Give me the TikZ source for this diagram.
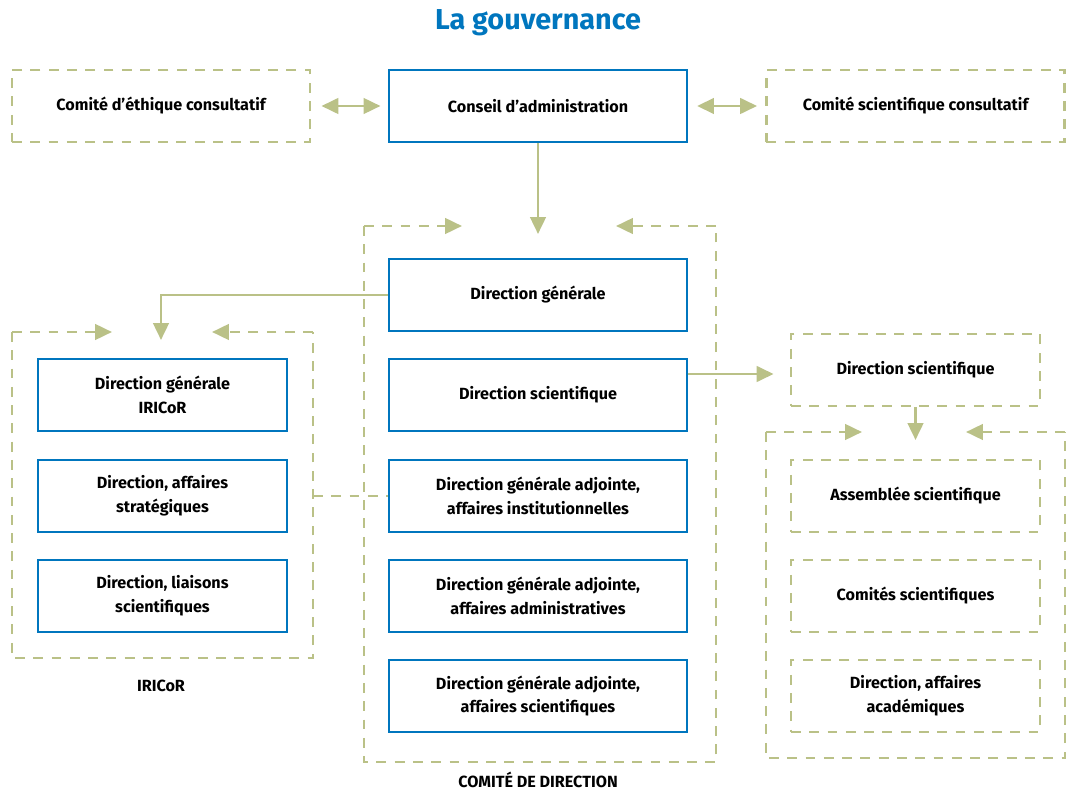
\documentclass[tikz,border=0pt]{standalone}
\usepackage{fontspec}
\setmainfont{Fira Sans}
\usetikzlibrary{arrows.meta, positioning}
\definecolor{govblue}{RGB}{0,118,190}
\definecolor{govgreen}{RGB}{186,193,135}

\begin{document}
\begin{tikzpicture}[x=0.025cm, y=-0.025cm,
    box/.style={draw=govblue, line width=1.8pt, fill=white, minimum width=7.45cm, minimum height=1.8cm, align=center, font=\bfseries\fontsize{11.5}{17}\selectfont},
    smallbox/.style={box, minimum width=6.225cm},
    dashbox/.style={box, draw=govgreen, line width=2pt, dash pattern=on 7pt off 6pt},
    smalldash/.style={dashbox, minimum width=6.225cm},
    frame/.style={draw=govgreen, line width=2pt, dash pattern=on 7pt off 6pt},
    link/.style={draw=govgreen, line width=2pt, -{Triangle[length=12pt,width=11pt]}},
    caption/.style={font=\bfseries\fontsize{11.5}{13}\selectfont}]
  \useasboundingbox (0,0) rectangle (1070,793);

  % Title
  \node[font=\bfseries\fontsize{20.5}{24}\selectfont, text=govblue] (title) at (538,23) {La gouvernance};

  % Top row
  \node[dashbox] (ethics) at (161,106) {Comité d’éthique consultatif};
  \node[box] (conseil) at (538,106) {Conseil d’administration};
  \node[dashbox] (scicons) at (915.5,106) {Comité scientifique consultatif};

  % Comite de direction
  \coordinate (cdr-tl) at (364,226);
  \coordinate (cdr-br) at (716,762);
  \coordinate (cdr-tr) at (716,226);
  \coordinate (cdr-in1) at (462,226);
  \coordinate (cdr-in2) at (616,226);
  \coordinate (cdr-in) at (538,234);
  \node[box] (dg) at (538,295) {Direction générale};
  \node[box] (ds) at (538,395) {Direction scientifique};
  \node[box] (dgai) at (538,496) {Direction générale adjointe,\\affaires institutionnelles};
  \node[box] (dgaa) at (538,596) {Direction générale adjointe,\\affaires administratives};
  \node[box] (dgas) at (538,696) {Direction générale adjointe,\\affaires scientifiques};
  \node[caption] (cdr-label) at (538,780) {COMITÉ DE DIRECTION};

  % IRICoR
  \coordinate (iri-tl) at (12,332);
  \coordinate (iri-br) at (313,658);
  \coordinate (iri-tr) at (313,332);
  \coordinate (iri-in1) at (112,332);
  \coordinate (iri-in2) at (212,332);
  \coordinate (iri-in) at (161,340);
  \node[smallbox] (dgi) at (162.5,395) {Direction générale\\IRICoR};
  \node[smallbox] (das) at (162.5,496) {Direction, affaires\\stratégiques};
  \node[smallbox] (dls) at (162.5,596) {Direction, liaisons\\scientifiques};
  \node[caption] (iri-label) at (161,686) {IRICoR};

  % Direction scientifique
  \node[smalldash] (dsr) at (915.5,370) {Direction scientifique};
  \coordinate (sci-tl) at (766,432);
  \coordinate (sci-br) at (1065,758);
  \coordinate (sci-tr) at (1065,432);
  \coordinate (sci-in1) at (862,432);
  \coordinate (sci-in2) at (966,432);
  \coordinate (sci-in) at (915.5,440);
  \node[smalldash] (asm) at (915.5,496) {Assemblée scientifique};
  \node[smalldash] (cs) at (915.5,596) {Comités scientifiques};
  \node[smalldash] (daa) at (915.5,696) {Direction, affaires\\académiques};

  % Frames
  \draw[frame] (cdr-tl) |- (cdr-br) -- (cdr-tr);
  \draw[frame, -{Triangle[length=12pt,width=11pt]}] (cdr-tl) -- (cdr-in1);
  \draw[frame, -{Triangle[length=12pt,width=11pt]}] (cdr-tr) -- (cdr-in2);
  \draw[frame] (iri-tl) |- (iri-br) -- (iri-tr);
  \draw[frame, -{Triangle[length=12pt,width=11pt]}] (iri-tl) -- (iri-in1);
  \draw[frame, -{Triangle[length=12pt,width=11pt]}] (iri-tr) -- (iri-in2);
  \draw[frame] (sci-tl) |- (sci-br) -- (sci-tr);
  \draw[frame, -{Triangle[length=12pt,width=11pt]}] (sci-tl) -- (sci-in1);
  \draw[frame, -{Triangle[length=12pt,width=11pt]}] (sci-tr) -- (sci-in2);

  % Arrows
  \draw[link, {Triangle[length=12pt,width=11pt]}-{Triangle[length=12pt,width=11pt]}, shorten <=0.25cm, shorten >=0.18cm] (ethics) -- (conseil);
  \draw[link, {Triangle[length=12pt,width=11pt]}-{Triangle[length=12pt,width=11pt]}, shorten <=0.22cm, shorten >=0.2cm] (conseil) -- (scicons);
  \draw[link] (conseil) -- (cdr-in);
  \draw[link] (dg.west) -| (iri-in);
  \draw[link, shorten >=0.4cm] ([yshift=-0.1cm]ds.east |- dsr.west) -- ([yshift=-0.1cm]dsr.west);
  \draw[link] (dsr) -- (sci-in);
  \draw[frame] (iri-br |- dgai.west) -- (dgai.west);
\end{tikzpicture}
\end{document}
